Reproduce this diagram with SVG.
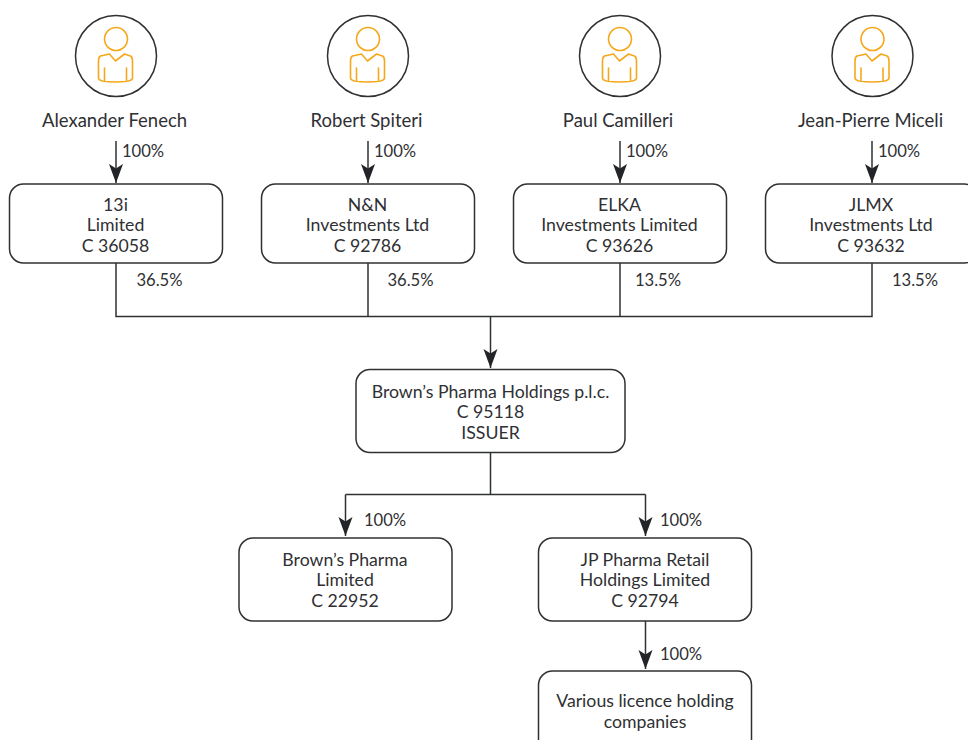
<svg xmlns="http://www.w3.org/2000/svg" width="968" height="740" viewBox="0 0 968 740">
<style>
text{font-family:Lato,"Liberation Sans",sans-serif;font-size:17.7px;fill:#2f3033;text-anchor:middle}
.n{font-size:18.500px}
.l{font-size:16.600px}
.b{fill:#fff;stroke:#2f3033;stroke-width:1.5}
.c{fill:none;stroke:#2f3033;stroke-width:1.5}
.a{fill:none;stroke:#2f3033;stroke-width:1.5;marker-end:url(#ah)}
.p{fill:#fff;stroke:#2f3033;stroke-width:1.5}
.o{fill:none;stroke:#f5a81c;stroke-width:1.6;stroke-linecap:round;stroke-linejoin:round}
</style>
<defs>
<marker id="ah" markerUnits="userSpaceOnUse" markerWidth="20" markerHeight="16" refX="19" refY="8" orient="auto" viewBox="0 0 20 16"><path d="M0 1L4.500 8L0 15L19 8Z" fill="#232427"/></marker>
<g id="person">
<circle class="p" cx="0" cy="0" r="40.5"/>
<circle class="o" cx="0" cy="-17" r="11.5"/>
<path class="o" d="M-6.500 -2L-0.500 5L8.500 -2L14.500 0Q16.500 1 16.500 5V22Q16.500 24 12.500 25Q-0.500 27 -13.500 25Q-17.500 24 -17.500 22V5Q-17.500 1 -15.500 0ZM-11.500 12V25M10.500 12V25"/>
</g>
</defs>
<g id="connectors">
<path class="a" d="M116 141V183"/>
<path class="a" d="M368 141V183"/>
<path class="a" d="M620 141V183"/>
<path class="a" d="M872 141V183"/>
<path class="c" d="M116 263V316.500H872V263M368 263V316.500M620 263V316.500"/>
<path class="a" d="M490.500 316.500V368"/>
<path class="c" d="M490.500 453V494.500H345.500M490.500 494.500H645.500"/>
<path class="a" d="M345.500 494.500V536"/>
<path class="a" d="M645.500 494.500V536"/>
<path class="a" d="M645.500 621V669"/>
</g>
<g id="labels">
<text class="l" x="143" y="157">100%</text><text class="l" x="395" y="157">100%</text><text class="l" x="647" y="157">100%</text><text class="l" x="899" y="157">100%</text>
<text class="l" x="159.500" y="286">36.5%</text><text class="l" x="410.500" y="286">36.5%</text><text class="l" x="658" y="286">13.5%</text><text class="l" x="915" y="286">13.5%</text>
<text class="l" x="385" y="526">100%</text><text class="l" x="681" y="526">100%</text><text class="l" x="681" y="660">100%</text>
</g>
<g id="p1"><use href="#person" x="116" y="56"/><text class="n" x="114.500" y="127">Alexander Fenech</text></g>
<g id="p2"><use href="#person" x="368" y="56"/><text class="n" x="366.500" y="127">Robert Spiteri</text></g>
<g id="p3"><use href="#person" x="620" y="56"/><text class="n" x="618" y="127">Paul Camilleri</text></g>
<g id="p4"><use href="#person" x="872.500" y="56"/><text class="n" x="870.500" y="127">Jean-Pierre Miceli</text></g>
<g id="n1"><rect class="b" x="9.500" y="184" width="213" height="79" rx="14"/><text x="115.500" y="211">13i</text><text x="115.500" y="231">Limited</text><text x="115.500" y="252">C 36058</text></g>
<g id="n2"><rect class="b" x="261.500" y="184" width="213" height="79" rx="14"/><text x="367.500" y="211">N&amp;N</text><text x="367.500" y="231">Investments Ltd</text><text x="367.500" y="252">C 92786</text></g>
<g id="n3"><rect class="b" x="513.500" y="184" width="213" height="79" rx="14"/><text x="619.500" y="211">ELKA</text><text x="619.500" y="231">Investments Limited</text><text x="619.500" y="252">C 93626</text></g>
<g id="n4"><rect class="b" x="765.500" y="184" width="213" height="79" rx="14"/><text x="871" y="211">JLMX</text><text x="871" y="231">Investments Ltd</text><text x="871" y="252">C 93632</text></g>
<g id="issuer"><rect class="b" x="356" y="369.500" width="269" height="83" rx="14"/><text x="490.500" y="398">Brown’s Pharma Holdings p.l.c.</text><text x="490.500" y="418">C 95118</text><text x="490.500" y="439">ISSUER</text></g>
<g id="n5"><rect class="b" x="239" y="538" width="213" height="83" rx="14"/><text x="345" y="566">Brown’s Pharma</text><text x="345" y="586">Limited</text><text x="345" y="607">C 22952</text></g>
<g id="n6"><rect class="b" x="538.500" y="538" width="213" height="83" rx="14"/><text x="645" y="566">JP Pharma Retail</text><text x="645" y="586">Holdings Limited</text><text x="645" y="607">C 92794</text></g>
<g id="n7"><rect class="b" x="538.500" y="671" width="213" height="83" rx="14"/><text x="645" y="707">Various licence holding</text><text x="645" y="728">companies</text></g>
</svg>
